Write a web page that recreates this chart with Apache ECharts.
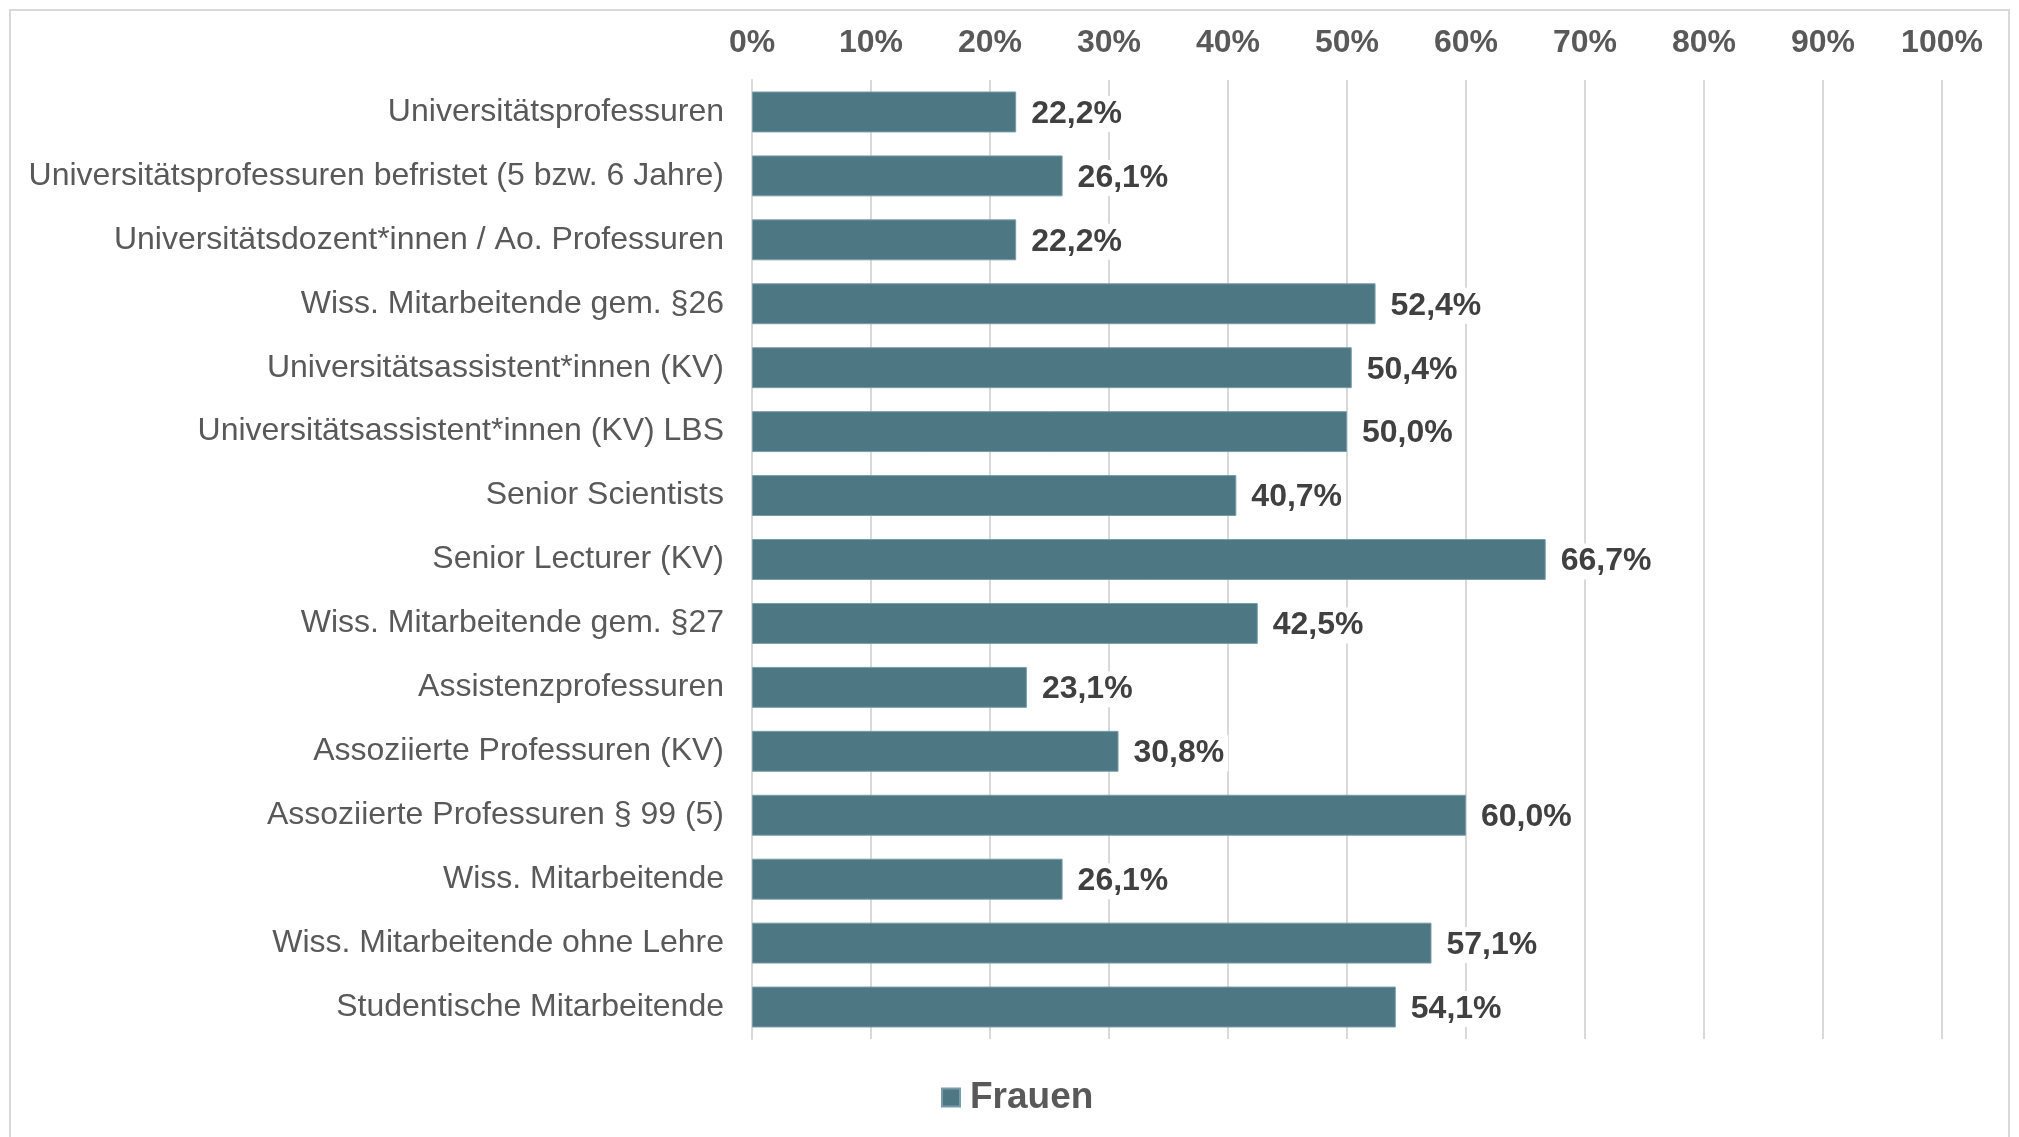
<!DOCTYPE html>
<html>
<head>
<meta charset="utf-8">
<script src="https://cdn.jsdelivr.net/npm/echarts@6/dist/echarts.min.js"></script>
<style>
  html, body { margin: 0; padding: 0; background: #fff; }
  #chart { width: 2019px; height: 1137px; }
</style>
</head>
<body>
<div id="chart"></div>
<script>
const categories = [
  "Universitätsprofessuren",
  "Universitätsprofessuren befristet (5 bzw. 6 Jahre)",
  "Universitätsdozent*innen / Ao. Professuren",
  "Wiss. Mitarbeitende gem. §26",
  "Universitätsassistent*innen (KV)",
  "Universitätsassistent*innen (KV) LBS",
  "Senior Scientists",
  "Senior Lecturer (KV)",
  "Wiss. Mitarbeitende gem. §27",
  "Assistenzprofessuren",
  "Assoziierte Professuren (KV)",
  "Assoziierte Professuren § 99 (5)",
  "Wiss. Mitarbeitende",
  "Wiss. Mitarbeitende ohne Lehre",
  "Studentische Mitarbeitende"
];
const frauen = [22.2, 26.1, 22.2, 52.4, 50.4, 50.0, 40.7, 66.7, 42.5, 23.1, 30.8, 60.0, 26.1, 57.1, 54.1];

const font = "'Liberation Sans', Arial, sans-serif";
const chart = echarts.init(document.getElementById("chart"));

chart.setOption({
  animation: false,
  backgroundColor: "#fff",
  textStyle: { fontFamily: font },
  graphic: [{
    type: "rect",
    shape: { x: 10, y: 10, width: 1999, height: 1140 },
    style: { fill: "none", stroke: "#d9d9d9", lineWidth: 2 },
    silent: true,
    z: -10
  }],
  legend: {
    data: ["Frauen"],
    left: 936,
    top: 1074,
    itemWidth: 18,
    itemHeight: 18,
    icon: "rect",
    textStyle: {
      fontSize: 37, fontWeight: "bold", color: "#595959", fontFamily: font,
      padding: [0, 0, 0, 5]
    }
  },
  grid: {
    left: 752,
    right: 77,
    top: 80,
    bottom: 98,
    outerBoundsMode: "none"
  },
  xAxis: {
    type: "value",
    position: "top",
    min: 0,
    max: 100,
    interval: 10,
    axisLine: { show: false },
    axisTick: { show: false },
    axisLabel: {
      margin: 21,
      fontSize: 32,
      fontWeight: "bold",
      color: "#595959",
      fontFamily: font,
      formatter: v => v + "%"
    },
    splitLine: { show: true, lineStyle: { color: "#d9d9d9", width: 2 } }
  },
  yAxis: {
    type: "category",
    inverse: true,
    data: categories,
    axisLine: { show: true, lineStyle: { color: "#d9d9d9", width: 2 } },
    axisTick: { show: false },
    axisLabel: {
      margin: 28,
      fontSize: 32,
      color: "#595959",
      fontFamily: font,
      padding: [3, 0, 0, 0]
    }
  },
  series: [{
    name: "Frauen",
    type: "bar",
    data: frauen,
    barCategoryGap: "36%",
    itemStyle: { color: "#4e7784", borderColor: "#7a9ca7", borderWidth: 1 },
    label: {
      show: true,
      position: "right",
      distance: 11,
      offset: [0, 2],
      fontSize: 32,
      fontWeight: "bold",
      color: "#404040",
      fontFamily: font,
      backgroundColor: "#fff",
      padding: [2, 4],
      formatter: p => p.value.toFixed(1).replace(".", ",") + "%"
    }
  }]
});
</script>
</body>
</html>
